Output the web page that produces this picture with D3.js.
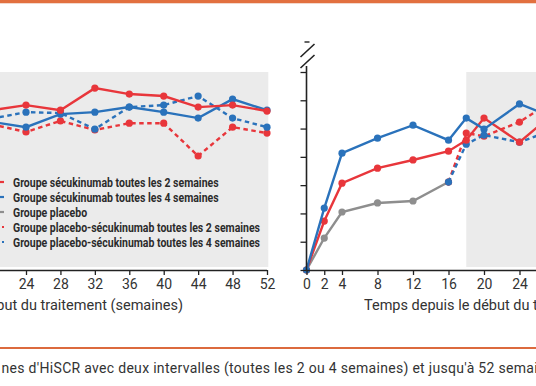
<!DOCTYPE html>
<html>
<head>
<meta charset="utf-8">
<style>
  body { margin: 0; background: #fff; }
  svg { display: block; }
  .tick text { font-family: Roboto, "Liberation Sans", sans-serif; font-size: 14px; fill: #333; }
  .title { font-family: Roboto, "Liberation Sans", sans-serif; font-size: 14.5px; fill: #333; }
  .caption { font-family: Roboto, "Liberation Sans", sans-serif; font-size: 14px; letter-spacing: 0.3px; fill: #333; }
  .legend text { font-family: Roboto, "Liberation Sans", sans-serif; font-size: 12.5px; font-weight: bold; fill: #2b2b2b; }
</style>
</head>
<body>
<svg id="chart" width="536" height="386"></svg>
<script src="https://cdn.jsdelivr.net/npm/d3@7/dist/d3.min.js"></script>
<script>
// left panel (weeks 20-52 visible part)
var leftWeeks = [20, 24, 28, 32, 36, 40, 44, 48, 52]
var leftSec2 = [56.5, 58.3, 56.5, 64.3, 62.2, 61.5, 57.6, 58.3, 56.2]
var leftSec4 = [52.4, 50.5, 55.1, 55.8, 57.6, 55.8, 53.7, 60.4, 56.5]
var leftPlaSec2 = [51.5, 48.8, 52.7, 49.5, 51.9, 51.9, 40.3, 50.5, 48.4]
var leftPlaSec4 = [53.5, 55.8, 55.5, 49.8, 57.6, 58.3, 61.5, 53.7, 50.5]
var leftTicks = [24, 28, 32, 36, 40, 44, 48, 52]

// right panel
var rightWeeks = [0, 2, 4, 8, 12, 16, 18, 20, 24, 28]
var rightSec2 = [0, 17.3, 30.7, 36.0, 38.9, 42.0, 45.9, 53.7, 45.2, 55.8]
var rightSec4 = [0, 21.9, 41.3, 46.6, 51.2, 45.9, 53.7, 49.8, 58.7, 53.7]
var placeboWeeks = [0, 2, 4, 8, 12, 16]
var rightPlacebo = [0, 11.3, 20.5, 23.7, 24.4, 31.1]
var switchWeeks = [16, 18, 20, 24, 28]
var rightPlaSec2 = [31.1, 48.4, 47.3, 52.3, 60.4]
var rightPlaSec4 = [31.1, 44.5, 47.7, 45.2, 49.8]
var rightTicks = [0, 2, 4, 8, 12, 16, 20, 24, 28]
var yTicks = [0, 10, 20, 30, 40, 50, 60, 70]

var legendLabels = [
  'Groupe sécukinumab toutes les 2 semaines',
  'Groupe sécukinumab toutes les 4 semaines',
  'Groupe placebo',
  'Groupe placebo-sécukinumab toutes les 2 semaines',
  'Groupe placebo-sécukinumab toutes les 4 semaines'
]
var legendColors = ['#e8363b', '#2a72bb', '#8e8e8e', '#e8363b', '#2a72bb']
var legendDashed = [false, false, false, true, true]

var RED = '#e8363b', BLUE = '#2a72bb', GRAY = '#8e8e8e'
var svg = d3.select('#chart')

var y = d3.scaleLinear().domain([0, 70]).range([270, 72])
var xL = d3.scaleLinear().domain([24, 52]).range([26, 267])
var xR = d3.scaleLinear().domain([0, 24]).range([306.5, 519.5])

// orange rules
svg.append('rect').attr('x', 0).attr('y', 0).attr('width', 536).attr('height', 3).attr('fill', '#e2703f')
svg.append('rect').attr('x', 0).attr('y', 3).attr('width', 536).attr('height', 1).attr('fill', '#f3d8cc')
svg.append('rect').attr('x', 0).attr('y', 347).attr('width', 536).attr('height', 2).attr('fill', '#dc6a3e')

// grey backgrounds
svg.append('rect').attr('x', xL(18)).attr('y', y(70)).attr('width', xL(52.15) - xL(18))
  .attr('height', y(0) - y(70) - 3).attr('fill', '#ebebeb')
svg.append('rect').attr('x', xR(18)).attr('y', y(70)).attr('width', 536 - xR(18))
  .attr('height', y(0) - y(70) - 3).attr('fill', '#ebebeb')

function series(weeks, vals, x, color, dashed) {
  var pts = weeks.map(function (w, i) { return [w, vals[i]] })
  var g = svg.append('g')
  g.append('path')
    .attr('d', d3.line().x(function (d) { return x(d[0]) }).y(function (d) { return y(d[1]) })(pts))
    .attr('fill', 'none').attr('stroke', color).attr('stroke-width', 2.4)
    .attr('stroke-dasharray', dashed ? '4.5,3.5' : null)
  g.selectAll('circle').data(pts).enter().append('circle')
    .attr('cx', function (d) { return x(d[0]) })
    .attr('cy', function (d) { return y(d[1]) })
    .attr('r', 3.6).attr('fill', color)
}

// left panel
series(leftWeeks, leftPlaSec2, xL, RED, true)
series(leftWeeks, leftPlaSec4, xL, BLUE, true)
series(leftWeeks, leftSec4, xL, BLUE, false)
series(leftWeeks, leftSec2, xL, RED, false)

// right panel
series(placeboWeeks, rightPlacebo, xR, GRAY, false)
series(switchWeeks, rightPlaSec2, xR, RED, true)
series(switchWeeks, rightPlaSec4, xR, BLUE, true)
series(rightWeeks, rightSec2, xR, RED, false)
series(rightWeeks, rightSec4, xR, BLUE, false)

// x axes
function xAxis(x, ticks, x0, x1) {
  var g = svg.append('g').attr('transform', 'translate(0,270)')
    .call(d3.axisBottom(x).tickValues(ticks).tickSize(5).tickPadding(4).tickSizeOuter(0))
  g.select('.domain').remove()
  g.selectAll('.tick line').attr('stroke', '#222').attr('stroke-width', 1.3)
  g.append('line').attr('x1', x0).attr('x2', x1).attr('y1', 0.5).attr('y2', 0.5)
    .attr('stroke', '#222').attr('stroke-width', 1.6)
}
xAxis(xL, leftTicks, 0, xL(52))
xAxis(xR, rightTicks, xR(0), 536)

// right y axis with break
var ya = svg.append('g').attr('transform', 'translate(' + xR(0) + ',0)')
  .call(d3.axisLeft(y).tickValues(yTicks).tickSize(6).tickFormat(''))
ya.select('.domain').remove()
ya.selectAll('.tick line').attr('stroke', '#222').attr('stroke-width', 1.3)
ya.append('line').attr('x1', 0).attr('x2', 0).attr('y1', y(0)).attr('y2', 66)
  .attr('stroke', '#222').attr('stroke-width', 1.6)
ya.append('line').attr('x1', -6).attr('x2', 8).attr('y1', 68).attr('y2', 55)
  .attr('stroke', '#222').attr('stroke-width', 1.6)
ya.append('line').attr('x1', -6).attr('x2', 8).attr('y1', 57).attr('y2', 44)
  .attr('stroke', '#222').attr('stroke-width', 1.6)
ya.append('line').attr('x1', -2).attr('x2', 3).attr('y1', 42).attr('y2', 42)
  .attr('stroke', '#222').attr('stroke-width', 1.4)

// axis titles
svg.append('text').attr('class', 'title').attr('x', 183).attr('y', 310).attr('text-anchor', 'end')
  .text('Temps depuis le début du traitement (semaines)')
svg.append('text').attr('class', 'title').attr('x', 364).attr('y', 310)
  .text('Temps depuis le début du traitement (semaines)')

// legend (condensed face: squeeze the text to the reference widths)
var lg = svg.append('g').attr('class', 'legend')
var texts = []
legendLabels.forEach(function (lab, i) {
  var yy = 182 + i * 15
  lg.append('line').attr('x1', -12).attr('x2', 4).attr('y1', yy).attr('y2', yy)
    .attr('stroke', legendColors[i]).attr('stroke-width', 2.2)
    .attr('stroke-dasharray', legendDashed[i] ? '3,4' : null)
  texts.push(lg.append('text').attr('x', 13).attr('y', yy + 4.5).text(lab))
})
var k = 247 / texts[4].node().getComputedTextLength()
texts.forEach(function (t) {
  t.attr('textLength', t.node().getComputedTextLength() * k).attr('lengthAdjust', 'spacingAndGlyphs')
})

// caption
var cap = svg.append('text').attr('class', 'caption').attr('y', 373)
  .text("nes d'HiSCR avec deux intervalles (toutes les 2 ou 4 semaines) et jusqu'à 52 semaines")
var idx = cap.text().indexOf('(toutes')
var off = cap.node().getSubStringLength(0, idx)
cap.attr('x', 224 - off)
</script>
</body>
</html>
